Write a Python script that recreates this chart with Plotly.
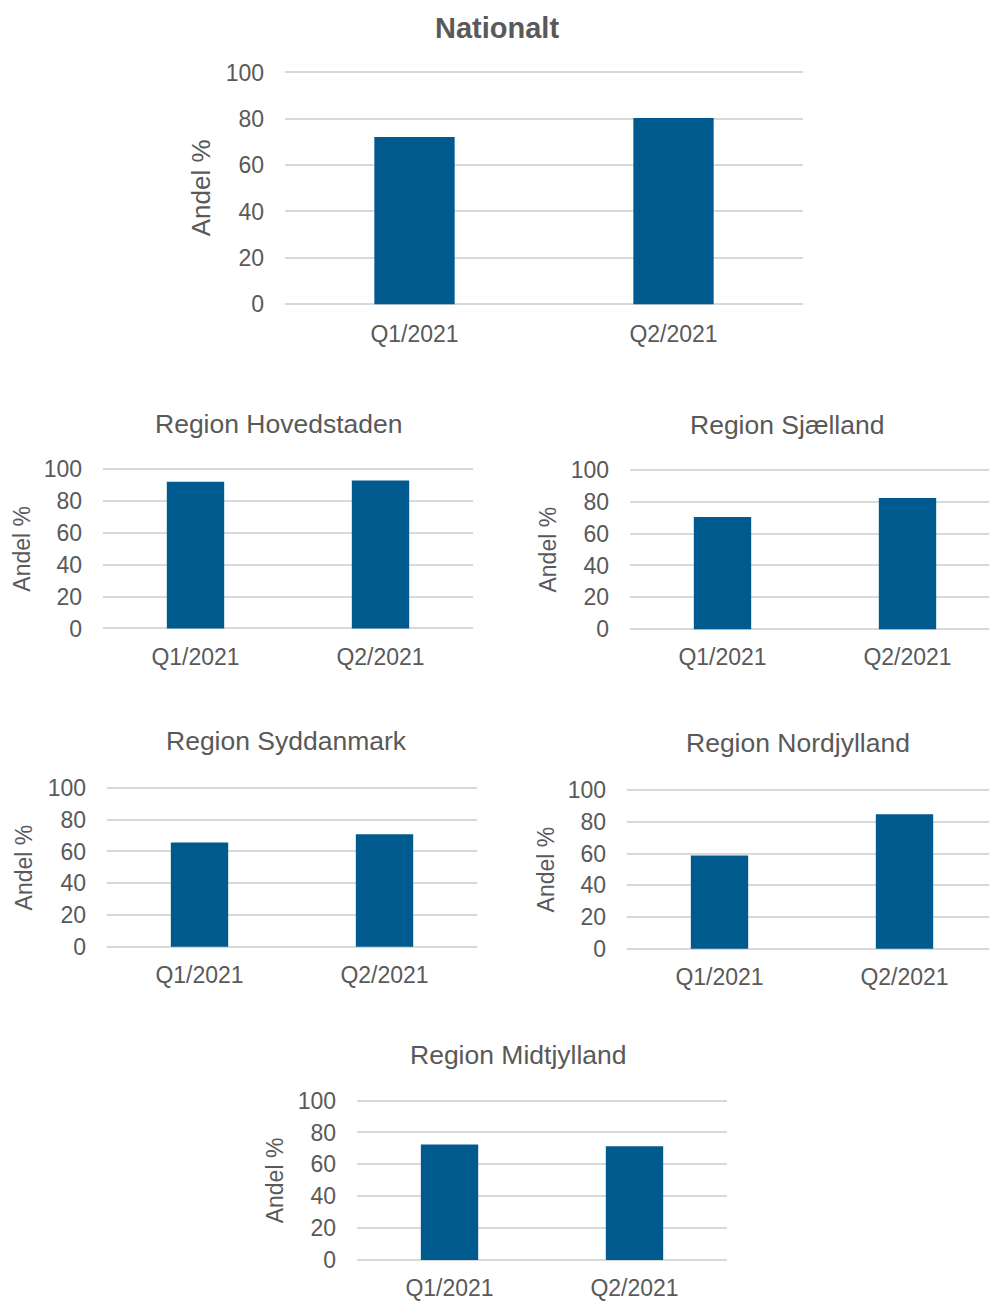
import plotly.graph_objects as go

# Data
categories = ["Q1/2021", "Q2/2021"]
nationalt = [72.2, 80.4]
hovedstaden = [92.0, 92.7]
sjaelland = [70.5, 82.4]
syddanmark = [65.6, 70.9]
nordjylland = [58.7, 84.7]
midtjylland = [72.4, 71.4]
panel_titles = ["Nationalt", "Region Hovedstaden", "Region Sjælland",
                "Region Syddanmark", "Region Nordjylland", "Region Midtjylland"]
y_ticks = [0, 20, 40, 60, 80, 100]
y_title = "Andel %"

W, H = 989, 1301
BAR = "#005A8D"
TXT = "#595959"
GRID = "#D9D9D9"
FONT = "Liberation Sans, Arial, sans-serif"

# Panel geometry in pixels: plot left, nominal plot right, y of 0, y of 100,
# title centre (x, y), axis-title centre x, title font size, bold, axis-title size
panels = [
    dict(vals=nationalt, left=285, right=803, y0=299.0, y100=63.5,
         tx=497, ty=17.8, ax=201, tsize=29, bold=True, asize=26),
    dict(vals=hovedstaden, left=103, right=473, y0=628.6, y100=466.5,
         tx=279, ty=420.5, ax=22, tsize=26.5, bold=False, asize=23),
    dict(vals=sjaelland, left=630, right=1000, y0=629.3, y100=467.5,
         tx=787, ty=421.5, ax=548, tsize=26.5, bold=False, asize=23),
    dict(vals=syddanmark, left=107, right=477, y0=952.2, y100=790.7,
         tx=286, ty=743.3, ax=24, tsize=26.5, bold=False, asize=23),
    dict(vals=nordjylland, left=627, right=997, y0=954.2, y100=792.8,
         tx=798, ty=745.4, ax=546, tsize=26.5, bold=False, asize=23),
    dict(vals=midtjylland, left=357, right=727, y0=1270.5, y100=1108.5,
         tx=518, ty=1062.1, ax=275, tsize=26.5, bold=False, asize=23),
]

fig = go.Figure()
annotations = []
PAD = 2  # value units added below 0 and above 100

for i, (p, title) in enumerate(zip(panels, panel_titles), start=1):
    xa = "x" if i == 1 else f"x{i}"
    ya = "y" if i == 1 else f"y{i}"
    xkey = "xaxis" if i == 1 else f"xaxis{i}"
    ykey = "yaxis" if i == 1 else f"yaxis{i}"

    fig.add_trace(go.Bar(x=categories, y=p["vals"], marker_color=BAR,
                         marker_line_width=0, width=0.31,
                         xaxis=xa, yaxis=ya, showlegend=False))

    # horizontal domain; panels cut by the page edge keep their category width
    cat_w = (p["right"] - p["left"]) / 2
    right_px = min(p["right"], W)
    x_hi = -0.5 + (right_px - p["left"]) / cat_w
    ppu = (p["y0"] - p["y100"]) / 100
    bottom_px = p["y0"] + PAD * ppu
    top_px = p["y100"] - PAD * ppu

    fig.layout[xkey] = dict(
        domain=[p["left"] / W, right_px / W], anchor=ya, type="category",
        range=[-0.5, x_hi], showgrid=False, showline=False, zeroline=False,
        ticks="", tickfont=dict(family=FONT, size=23, color=TXT),
        ticklabelstandoff=9, fixedrange=True,
    )
    fig.layout[ykey] = dict(
        domain=[1 - bottom_px / H, 1 - top_px / H], anchor=xa,
        range=[-PAD, 100 + PAD], tickvals=y_ticks, showgrid=True,
        gridcolor=GRID, gridwidth=2, zeroline=False, showline=False,
        ticks="", tickfont=dict(family=FONT, size=23, color=TXT),
        ticklabelstandoff=20, fixedrange=True,
    )

    annotations.append(dict(
        text=f"<b>{title}</b>" if p["bold"] else title,
        xref="paper", yref="paper", x=p["tx"] / W, y=1 - p["ty"] / H,
        xanchor="center", yanchor="middle", showarrow=False,
        font=dict(family=FONT, size=p["tsize"], color=TXT),
    ))
    annotations.append(dict(
        text=y_title, textangle=-90,
        xref="paper", yref="paper", x=p["ax"] / W,
        y=1 - ((p["y0"] + p["y100"]) / 2) / H,
        xanchor="center", yanchor="middle", showarrow=False,
        font=dict(family=FONT, size=p["asize"], color=TXT),
    ))

fig.update_layout(
    width=W, height=H, margin=dict(l=0, r=0, t=0, b=0),
    paper_bgcolor="white", plot_bgcolor="white",
    annotations=annotations, font=dict(family=FONT, color=TXT),
)

fig.write_html("out.html")
